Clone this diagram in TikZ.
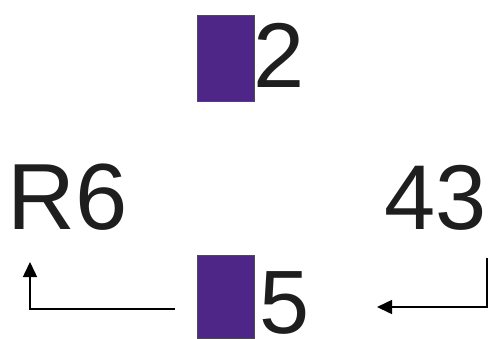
\documentclass[tikz,border=0pt]{standalone}
\usepackage{fontspec}
\setmainfont{Liberation Sans}
\usetikzlibrary{arrows.meta}
\definecolor{purp}{RGB}{78,38,135}
\definecolor{txt}{RGB}{30,30,30}
\begin{document}
\begin{tikzpicture}[x=1pt,y=-1pt,
  pic/.style={draw=black!70,line width=0.8pt,fill=purp,inner sep=0pt,minimum width=57pt,minimum height=86pt},
  big/.style={inner sep=0pt,anchor=base west,text=txt,font=\fontsize{92}{92}\selectfont},
  conn/.style={line width=1.5pt,-{Triangle[length=15pt,width=14pt]}}]
\useasboundingbox (0,0) rectangle (488,338);
\node[pic,anchor=north west] (img1) at (197,15) {};
\node[big] (n2) at (253,87) {2};
\node[big,font=\fontsize{94}{94}\selectfont] (r6) at (7,229) {R6};
\node[big] (n43) at (384,229) {43};
\node[pic,anchor=north west,minimum height=83pt] (img2) at (197,255) {};
\node[big,font=\fontsize{90}{90}\selectfont] (n5) at (259,333) {5};
\coordinate (la) at (175,309);
\coordinate (lt) at (30,262);
\coordinate (ra) at (487,258);
\coordinate (rt) at (377,307);
\draw[conn] (la) -| (lt);
\draw[conn] (ra) |- (rt);
\end{tikzpicture}
\end{document}
